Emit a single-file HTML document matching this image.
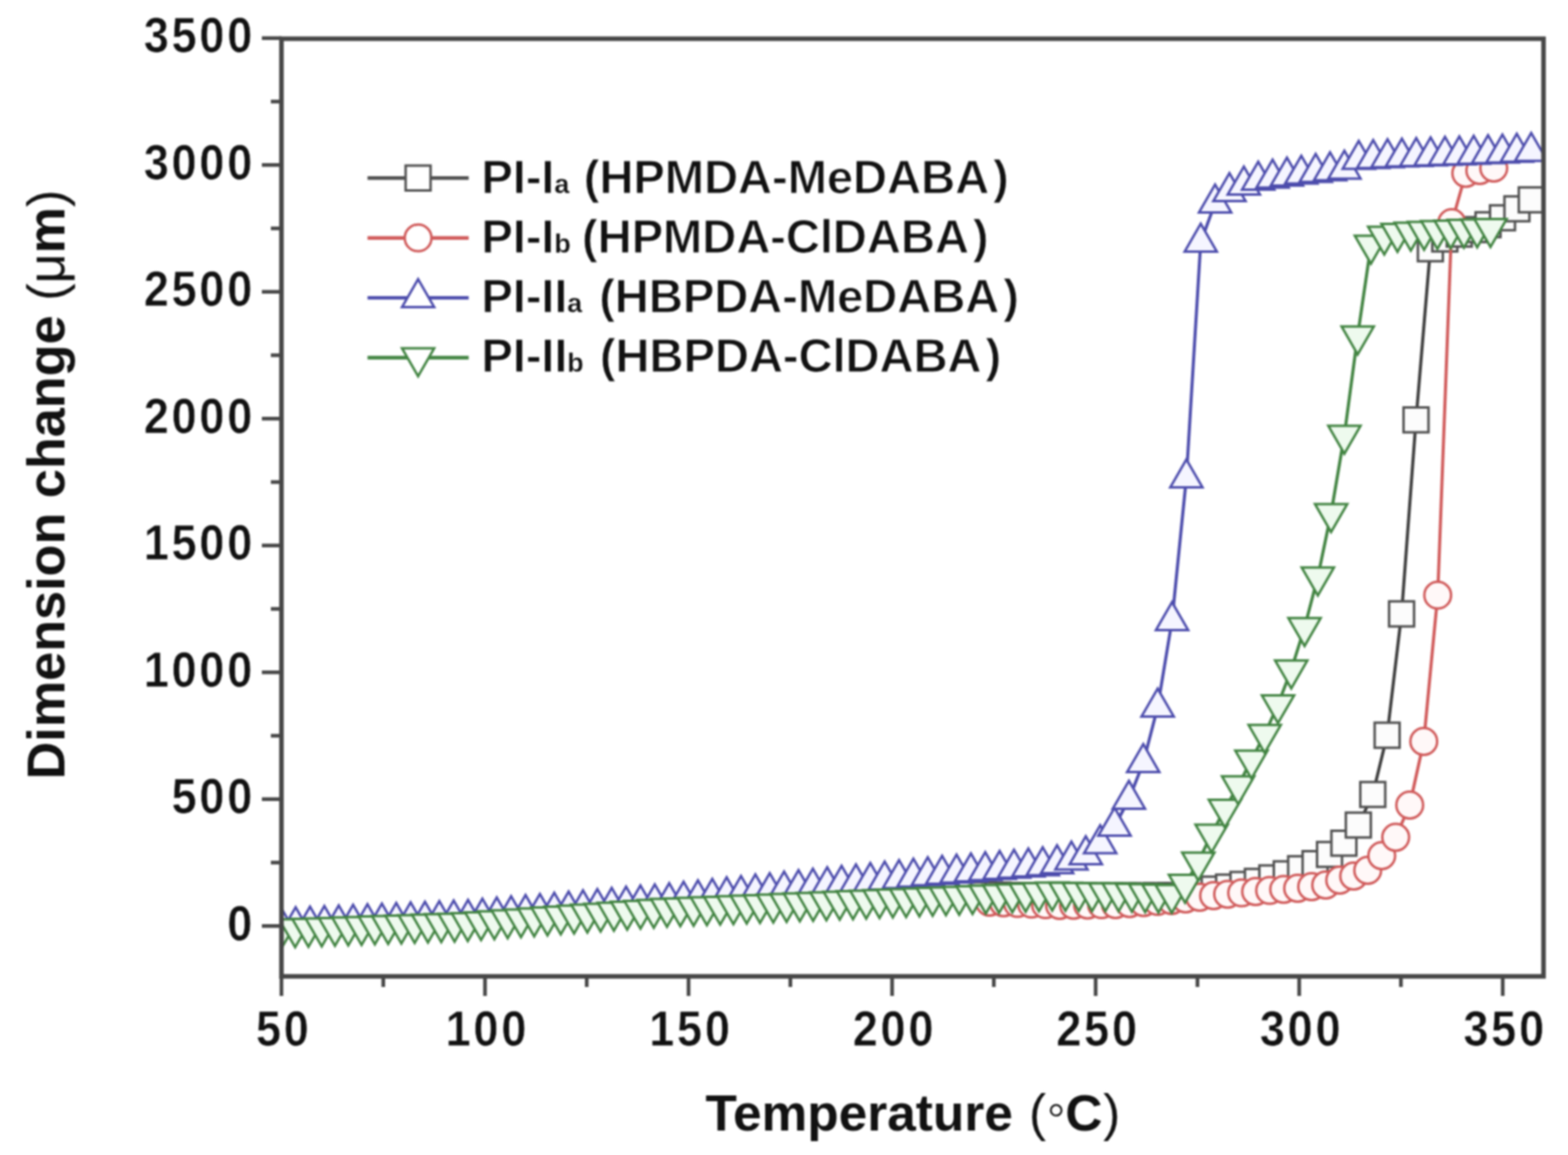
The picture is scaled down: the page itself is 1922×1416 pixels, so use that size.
<!DOCTYPE html>
<html><head><meta charset="utf-8"><title>Dimension change vs Temperature</title>
<style>html,body{margin:0;padding:0;background:#fff;}body{width:1922px;height:1416px;overflow:hidden;}svg{display:block;filter:blur(1.1px);}</style>
</head><body>
<svg width="1922" height="1416" viewBox="0 0 1922 1416"><defs><clipPath id="pc"><rect x="345.0" y="47.5" width="1547.0" height="1149.5"/></clipPath></defs>
<g clip-path="url(#pc)">
<polyline points="1205.6,1097 1223.2,1097.3 1240.9,1097.7 1258.6,1098 1276.3,1098.3 1293.9,1098.7 1311.6,1099 1329.3,1098.9 1346.9,1098.7 1364.6,1098.6 1382.3,1098.4 1400,1098.3 1417.6,1098.1 1435.3,1098 1453,1095 1470.6,1092 1488.3,1090 1506,1087.5 1523.6,1084.4 1541.3,1080.6 1559,1076.3 1576.7,1071.3 1594.3,1065 1612,1058.8 1629.7,1047.5 1647.3,1033.8 1665,1011.5 1682.7,974 1700.3,901.4 1718,752.6 1735.7,514.8 1753.3,305 1771,293 1788.7,287 1806.4,281.5 1824,275.5 1841.7,267 1859.4,256 1877,245" fill="none" stroke="#3c3c3c" stroke-width="3.8" stroke-linejoin="round"/>
<g fill="#fcfcfc" stroke="#505050" stroke-width="3.0" stroke-miterlimit="10"><path d="M1190.3 1081.7h30.6v30.6h-30.6z"/><path d="M1208 1082h30.6v30.6h-30.6z"/><path d="M1225.6 1082.4h30.6v30.6h-30.6z"/><path d="M1243.3 1082.7h30.6v30.6h-30.6z"/><path d="M1261 1083h30.6v30.6h-30.6z"/><path d="M1278.6 1083.4h30.6v30.6h-30.6z"/><path d="M1296.3 1083.7h30.6v30.6h-30.6z"/><path d="M1314 1083.6h30.6v30.6h-30.6z"/><path d="M1331.6 1083.4h30.6v30.6h-30.6z"/><path d="M1349.3 1083.3h30.6v30.6h-30.6z"/><path d="M1367 1083.1h30.6v30.6h-30.6z"/><path d="M1384.7 1083h30.6v30.6h-30.6z"/><path d="M1402.3 1082.8h30.6v30.6h-30.6z"/><path d="M1420 1082.7h30.6v30.6h-30.6z"/><path d="M1437.7 1079.7h30.6v30.6h-30.6z"/><path d="M1455.3 1076.7h30.6v30.6h-30.6z"/><path d="M1473 1074.7h30.6v30.6h-30.6z"/><path d="M1490.7 1072.2h30.6v30.6h-30.6z"/><path d="M1508.3 1069.1h30.6v30.6h-30.6z"/><path d="M1526 1065.3h30.6v30.6h-30.6z"/><path d="M1543.7 1061h30.6v30.6h-30.6z"/><path d="M1561.4 1056h30.6v30.6h-30.6z"/><path d="M1579 1049.7h30.6v30.6h-30.6z"/><path d="M1596.7 1043.5h30.6v30.6h-30.6z"/><path d="M1614.4 1032.2h30.6v30.6h-30.6z"/><path d="M1632 1018.5h30.6v30.6h-30.6z"/><path d="M1649.7 996.2h30.6v30.6h-30.6z"/><path d="M1667.4 958.7h30.6v30.6h-30.6z"/><path d="M1685 886.1h30.6v30.6h-30.6z"/><path d="M1702.7 737.3h30.6v30.6h-30.6z"/><path d="M1720.4 499.5h30.6v30.6h-30.6z"/><path d="M1738 289.7h30.6v30.6h-30.6z"/><path d="M1755.7 277.7h30.6v30.6h-30.6z"/><path d="M1773.4 271.7h30.6v30.6h-30.6z"/><path d="M1791.1 266.2h30.6v30.6h-30.6z"/><path d="M1808.7 260.2h30.6v30.6h-30.6z"/><path d="M1826.4 251.7h30.6v30.6h-30.6z"/><path d="M1844.1 240.7h30.6v30.6h-30.6z"/><path d="M1861.7 229.7h30.6v30.6h-30.6z"/></g>
<polyline points="1212.9,1106 1230.1,1106.8 1247.2,1107.6 1264.4,1108.4 1281.6,1109.2 1298.8,1110 1315.9,1109.8 1333.1,1109.5 1350.3,1109.2 1367.4,1109 1384.6,1107.8 1401.8,1106.5 1419,1105.2 1436.1,1104 1453.3,1102 1470.5,1100 1487.6,1098 1504.8,1096.3 1522,1094.7 1539.1,1093 1556.3,1091.7 1573.5,1090.3 1590.7,1089 1607.8,1087 1625,1085 1642.2,1079 1659.3,1074 1676.5,1067 1693.7,1049 1710.8,1026.5 1728,987 1745.2,909 1762.3,729.7 1779.5,273 1796.7,212.5 1813.9,209 1831,206" fill="none" stroke="#d05a5a" stroke-width="3.8" stroke-linejoin="round"/>
<g fill="#fff8f8" stroke="#d05a5a" stroke-width="3.0" stroke-miterlimit="10"><path d="M1196.5 1106a16.4 16.4 0 1 0 32.8 0a16.4 16.4 0 1 0 -32.8 0z"/><path d="M1213.7 1106.8a16.4 16.4 0 1 0 32.8 0a16.4 16.4 0 1 0 -32.8 0z"/><path d="M1230.8 1107.6a16.4 16.4 0 1 0 32.8 0a16.4 16.4 0 1 0 -32.8 0z"/><path d="M1248 1108.4a16.4 16.4 0 1 0 32.8 0a16.4 16.4 0 1 0 -32.8 0z"/><path d="M1265.2 1109.2a16.4 16.4 0 1 0 32.8 0a16.4 16.4 0 1 0 -32.8 0z"/><path d="M1282.4 1110a16.4 16.4 0 1 0 32.8 0a16.4 16.4 0 1 0 -32.8 0z"/><path d="M1299.5 1109.8a16.4 16.4 0 1 0 32.8 0a16.4 16.4 0 1 0 -32.8 0z"/><path d="M1316.7 1109.5a16.4 16.4 0 1 0 32.8 0a16.4 16.4 0 1 0 -32.8 0z"/><path d="M1333.9 1109.2a16.4 16.4 0 1 0 32.8 0a16.4 16.4 0 1 0 -32.8 0z"/><path d="M1351 1109a16.4 16.4 0 1 0 32.8 0a16.4 16.4 0 1 0 -32.8 0z"/><path d="M1368.2 1107.8a16.4 16.4 0 1 0 32.8 0a16.4 16.4 0 1 0 -32.8 0z"/><path d="M1385.4 1106.5a16.4 16.4 0 1 0 32.8 0a16.4 16.4 0 1 0 -32.8 0z"/><path d="M1402.5 1105.2a16.4 16.4 0 1 0 32.8 0a16.4 16.4 0 1 0 -32.8 0z"/><path d="M1419.7 1104a16.4 16.4 0 1 0 32.8 0a16.4 16.4 0 1 0 -32.8 0z"/><path d="M1436.9 1102a16.4 16.4 0 1 0 32.8 0a16.4 16.4 0 1 0 -32.8 0z"/><path d="M1454.1 1100a16.4 16.4 0 1 0 32.8 0a16.4 16.4 0 1 0 -32.8 0z"/><path d="M1471.2 1098a16.4 16.4 0 1 0 32.8 0a16.4 16.4 0 1 0 -32.8 0z"/><path d="M1488.4 1096.3a16.4 16.4 0 1 0 32.8 0a16.4 16.4 0 1 0 -32.8 0z"/><path d="M1505.6 1094.7a16.4 16.4 0 1 0 32.8 0a16.4 16.4 0 1 0 -32.8 0z"/><path d="M1522.7 1093a16.4 16.4 0 1 0 32.8 0a16.4 16.4 0 1 0 -32.8 0z"/><path d="M1539.9 1091.7a16.4 16.4 0 1 0 32.8 0a16.4 16.4 0 1 0 -32.8 0z"/><path d="M1557.1 1090.3a16.4 16.4 0 1 0 32.8 0a16.4 16.4 0 1 0 -32.8 0z"/><path d="M1574.2 1089a16.4 16.4 0 1 0 32.8 0a16.4 16.4 0 1 0 -32.8 0z"/><path d="M1591.4 1087a16.4 16.4 0 1 0 32.8 0a16.4 16.4 0 1 0 -32.8 0z"/><path d="M1608.6 1085a16.4 16.4 0 1 0 32.8 0a16.4 16.4 0 1 0 -32.8 0z"/><path d="M1625.8 1079a16.4 16.4 0 1 0 32.8 0a16.4 16.4 0 1 0 -32.8 0z"/><path d="M1642.9 1074a16.4 16.4 0 1 0 32.8 0a16.4 16.4 0 1 0 -32.8 0z"/><path d="M1660.1 1067a16.4 16.4 0 1 0 32.8 0a16.4 16.4 0 1 0 -32.8 0z"/><path d="M1677.3 1049a16.4 16.4 0 1 0 32.8 0a16.4 16.4 0 1 0 -32.8 0z"/><path d="M1694.4 1026.5a16.4 16.4 0 1 0 32.8 0a16.4 16.4 0 1 0 -32.8 0z"/><path d="M1711.6 987a16.4 16.4 0 1 0 32.8 0a16.4 16.4 0 1 0 -32.8 0z"/><path d="M1728.8 909a16.4 16.4 0 1 0 32.8 0a16.4 16.4 0 1 0 -32.8 0z"/><path d="M1745.9 729.7a16.4 16.4 0 1 0 32.8 0a16.4 16.4 0 1 0 -32.8 0z"/><path d="M1763.1 273a16.4 16.4 0 1 0 32.8 0a16.4 16.4 0 1 0 -32.8 0z"/><path d="M1780.3 212.5a16.4 16.4 0 1 0 32.8 0a16.4 16.4 0 1 0 -32.8 0z"/><path d="M1797.5 209a16.4 16.4 0 1 0 32.8 0a16.4 16.4 0 1 0 -32.8 0z"/><path d="M1814.6 206a16.4 16.4 0 1 0 32.8 0a16.4 16.4 0 1 0 -32.8 0z"/></g>
<polyline points="344.8,1136 362.4,1135 380,1134.2 397.6,1133.5 415.2,1132.8 432.8,1132 450.4,1131.2 468.1,1130.5 485.7,1129.8 503.3,1129 520.9,1128.2 538.5,1127.5 556.1,1126.8 573.7,1126 591.3,1124.5 608.9,1123.1 626.5,1121.6 644.2,1120.1 661.8,1118.7 679.4,1117.2 697,1115.8 714.6,1114.3 732.2,1112.8 749.8,1111.4 767.4,1109.9 785,1108.4 802.6,1107 820.3,1105.5 837.9,1103.7 855.5,1102 873.1,1100.2 890.7,1098.4 908.3,1096.7 925.9,1094.9 943.5,1093.2 961.1,1091.4 978.8,1089.6 996.4,1087.9 1014,1086.1 1031.6,1084.3 1049.2,1082.6 1066.8,1080.8 1084.4,1079.1 1102,1077.3 1119.6,1075.5 1137.2,1073.8 1154.8,1072 1172.5,1070.5 1190.1,1069 1207.7,1067.5 1225.3,1066 1242.9,1064.5 1260.5,1063 1278.1,1061.5 1295.7,1059 1313.3,1054.5 1330.9,1048 1348.6,1034.5 1366.2,1013 1383.8,980 1401.4,935 1419,867 1436.6,761 1454.2,586 1471.8,297 1489.4,249 1507,235 1524.7,227 1542.3,221 1559.9,218.5 1577.5,216 1595.1,213.7 1612.7,211.5 1630.3,209.5 1647.9,207.5 1665.5,195.5 1683.2,194.5 1700.8,193.5 1718.4,192.7 1736,192 1753.6,191.3 1771.2,190.6 1788.8,190 1806.4,189.3 1824,188.6 1841.6,187.8 1859.2,186.8 1876.9,185.8" fill="none" stroke="#4c4cac" stroke-width="3.8" stroke-linejoin="round"/>
<g fill="#f5f5ff" stroke="#4c4cac" stroke-width="3.0" stroke-miterlimit="10"><path d="M344.8 1113.2L364.5 1147.4L325 1147.4z"/><path d="M362.4 1112.2L382.1 1146.4L342.6 1146.4z"/><path d="M380 1111.4L399.8 1145.7L360.3 1145.7z"/><path d="M397.6 1110.7L417.4 1144.9L377.9 1144.9z"/><path d="M415.2 1109.9L435 1144.2L395.5 1144.2z"/><path d="M432.8 1109.2L452.6 1143.4L413.1 1143.4z"/><path d="M450.4 1108.4L470.2 1142.7L430.7 1142.7z"/><path d="M468.1 1107.7L487.8 1141.9L448.3 1141.9z"/><path d="M485.7 1106.9L505.4 1141.2L465.9 1141.2z"/><path d="M503.3 1106.2L523 1140.4L483.5 1140.4z"/><path d="M520.9 1105.4L540.6 1139.7L501.1 1139.7z"/><path d="M538.5 1104.7L558.2 1138.9L518.8 1138.9z"/><path d="M556.1 1103.9L575.9 1138.2L536.4 1138.2z"/><path d="M573.7 1103.2L593.5 1137.4L554 1137.4z"/><path d="M591.3 1101.7L611.1 1135.9L571.6 1135.9z"/><path d="M608.9 1100.3L628.7 1134.5L589.2 1134.5z"/><path d="M626.5 1098.8L646.3 1133L606.8 1133z"/><path d="M644.2 1097.3L663.9 1131.5L624.4 1131.5z"/><path d="M661.8 1095.9L681.5 1130.1L642 1130.1z"/><path d="M679.4 1094.4L699.1 1128.6L659.6 1128.6z"/><path d="M697 1092.9L716.7 1127.2L677.2 1127.2z"/><path d="M714.6 1091.5L734.3 1125.7L694.8 1125.7z"/><path d="M732.2 1090L752 1124.2L712.5 1124.2z"/><path d="M749.8 1088.6L769.6 1122.8L730.1 1122.8z"/><path d="M767.4 1087.1L787.2 1121.3L747.7 1121.3z"/><path d="M785 1085.6L804.8 1119.8L765.3 1119.8z"/><path d="M802.6 1084.2L822.4 1118.4L782.9 1118.4z"/><path d="M820.3 1082.7L840 1116.9L800.5 1116.9z"/><path d="M837.9 1080.9L857.6 1115.1L818.1 1115.1z"/><path d="M855.5 1079.2L875.2 1113.4L835.7 1113.4z"/><path d="M873.1 1077.4L892.8 1111.6L853.3 1111.6z"/><path d="M890.7 1075.6L910.4 1109.9L870.9 1109.9z"/><path d="M908.3 1073.9L928.1 1108.1L888.6 1108.1z"/><path d="M925.9 1072.1L945.7 1106.3L906.2 1106.3z"/><path d="M943.5 1070.4L963.3 1104.6L923.8 1104.6z"/><path d="M961.1 1068.6L980.9 1102.8L941.4 1102.8z"/><path d="M978.8 1066.8L998.5 1101L959 1101z"/><path d="M996.4 1065.1L1016.1 1099.3L976.6 1099.3z"/><path d="M1014 1063.3L1033.7 1097.5L994.2 1097.5z"/><path d="M1031.6 1061.5L1051.3 1095.7L1011.8 1095.7z"/><path d="M1049.2 1059.8L1068.9 1094L1029.4 1094z"/><path d="M1066.8 1058L1086.5 1092.2L1047 1092.2z"/><path d="M1084.4 1056.2L1104.2 1090.5L1064.7 1090.5z"/><path d="M1102 1054.5L1121.8 1088.7L1082.3 1088.7z"/><path d="M1119.6 1052.7L1139.4 1086.9L1099.9 1086.9z"/><path d="M1137.2 1051L1157 1085.2L1117.5 1085.2z"/><path d="M1154.8 1049.2L1174.6 1083.4L1135.1 1083.4z"/><path d="M1172.5 1047.7L1192.2 1081.9L1152.7 1081.9z"/><path d="M1190.1 1046.2L1209.8 1080.4L1170.3 1080.4z"/><path d="M1207.7 1044.7L1227.4 1078.9L1187.9 1078.9z"/><path d="M1225.3 1043.2L1245 1077.4L1205.5 1077.4z"/><path d="M1242.9 1041.7L1262.7 1075.9L1223.2 1075.9z"/><path d="M1260.5 1040.2L1280.3 1074.4L1240.8 1074.4z"/><path d="M1278.1 1038.7L1297.9 1072.9L1258.4 1072.9z"/><path d="M1295.7 1036.2L1315.5 1070.4L1276 1070.4z"/><path d="M1313.3 1031.7L1333.1 1065.9L1293.6 1065.9z"/><path d="M1330.9 1025.2L1350.7 1059.4L1311.2 1059.4z"/><path d="M1348.6 1011.7L1368.3 1045.9L1328.8 1045.9z"/><path d="M1366.2 990.2L1385.9 1024.4L1346.4 1024.4z"/><path d="M1383.8 957.2L1403.5 991.4L1364 991.4z"/><path d="M1401.4 912.2L1421.1 946.4L1381.6 946.4z"/><path d="M1419 844.2L1438.8 878.4L1399.2 878.4z"/><path d="M1436.6 738.2L1456.4 772.4L1416.9 772.4z"/><path d="M1454.2 563.2L1474 597.4L1434.5 597.4z"/><path d="M1471.8 274.2L1491.6 308.4L1452.1 308.4z"/><path d="M1489.4 226.2L1509.2 260.4L1469.7 260.4z"/><path d="M1507 212.2L1526.8 246.4L1487.3 246.4z"/><path d="M1524.7 204.2L1544.4 238.4L1504.9 238.4z"/><path d="M1542.3 198.2L1562 232.4L1522.5 232.4z"/><path d="M1559.9 195.7L1579.6 229.9L1540.1 229.9z"/><path d="M1577.5 193.2L1597.2 227.4L1557.7 227.4z"/><path d="M1595.1 190.9L1614.8 225.1L1575.3 225.1z"/><path d="M1612.7 188.7L1632.5 222.9L1593 222.9z"/><path d="M1630.3 186.7L1650.1 220.9L1610.6 220.9z"/><path d="M1647.9 184.7L1667.7 218.9L1628.2 218.9z"/><path d="M1665.5 172.7L1685.3 206.9L1645.8 206.9z"/><path d="M1683.2 171.7L1702.9 205.9L1663.4 205.9z"/><path d="M1700.8 170.7L1720.5 204.9L1681 204.9z"/><path d="M1718.4 169.9L1738.1 204.1L1698.6 204.1z"/><path d="M1736 169.2L1755.7 203.4L1716.2 203.4z"/><path d="M1753.6 168.5L1773.3 202.7L1733.8 202.7z"/><path d="M1771.2 167.8L1790.9 202L1751.4 202z"/><path d="M1788.8 167.2L1808.6 201.4L1769.1 201.4z"/><path d="M1806.4 166.5L1826.2 200.7L1786.7 200.7z"/><path d="M1824 165.8L1843.8 200L1804.3 200z"/><path d="M1841.6 165L1861.4 199.2L1821.9 199.2z"/><path d="M1859.2 164L1879 198.2L1839.5 198.2z"/><path d="M1876.9 163L1896.6 197.2L1857.1 197.2z"/></g>
<polyline points="345.5,1139 361.8,1138.5 378.1,1137.9 394.4,1137.3 410.6,1136.8 426.9,1136.2 443.2,1135.6 459.5,1135 475.8,1134.5 492,1133.9 508.3,1133.3 524.6,1132.7 540.9,1132.2 557.2,1131.6 573.4,1131 589.7,1129.8 606,1128.7 622.3,1127.5 638.6,1126.3 654.8,1125.2 671.1,1124 687.4,1122.8 703.7,1121.7 720,1120.5 736.2,1119.3 752.5,1118.2 768.8,1117 785.1,1115.8 801.4,1114.7 817.6,1113.5 833.9,1112.8 850.2,1112.2 866.5,1111.5 882.8,1110.8 899,1110.1 915.3,1109.5 931.6,1108.8 947.9,1108.1 964.2,1107.4 980.4,1106.8 996.7,1106.1 1013,1105.4 1029.3,1104.7 1045.6,1104 1061.8,1103.4 1078.1,1102.7 1094.4,1102 1110.7,1101.3 1127,1100.7 1143.2,1100 1159.5,1099.3 1175.8,1098.6 1192.1,1097.8 1208.4,1097.1 1224.6,1096.4 1240.9,1095.7 1257.2,1094.9 1273.5,1094.2 1289.8,1093.5 1306,1093.7 1322.3,1093.9 1338.6,1094.1 1354.9,1094.3 1371.2,1094.5 1387.4,1095 1403.7,1095.5 1420,1096 1436.3,1096.5 1452.6,1084 1468.8,1056.6 1485.1,1022.3 1501.4,991.8 1517.7,963.2 1534,931.7 1550.2,900.2 1566.5,863.8 1582.8,821.1 1599.1,769.2 1615.4,707.1 1631.6,629.4 1647.9,533.4 1664.2,411.6 1680.5,300.4 1696.8,289.3 1713,286 1729.3,284.5 1745.6,283.5 1761.9,282.5 1778.2,281.8 1794.4,281 1810.7,280.5 1827,280" fill="none" stroke="#428442" stroke-width="3.8" stroke-linejoin="round"/>
<g fill="#eefaee" stroke="#428442" stroke-width="3.0" stroke-miterlimit="10"><path d="M345.5 1161.8L365.3 1127.6L325.8 1127.6z"/><path d="M361.8 1161.3L381.6 1127.1L342.1 1127.1z"/><path d="M378.1 1160.7L397.8 1126.5L358.3 1126.5z"/><path d="M394.4 1160.2L414.1 1125.9L374.6 1125.9z"/><path d="M410.6 1159.6L430.4 1125.4L390.9 1125.4z"/><path d="M426.9 1159L446.7 1124.8L407.2 1124.8z"/><path d="M443.2 1158.4L463 1124.2L423.5 1124.2z"/><path d="M459.5 1157.8L479.2 1123.6L439.7 1123.6z"/><path d="M475.8 1157.3L495.5 1123.1L456 1123.1z"/><path d="M492 1156.7L511.8 1122.5L472.3 1122.5z"/><path d="M508.3 1156.1L528.1 1121.9L488.6 1121.9z"/><path d="M524.6 1155.5L544.4 1121.3L504.9 1121.3z"/><path d="M540.9 1155L560.6 1120.8L521.1 1120.8z"/><path d="M557.2 1154.4L576.9 1120.2L537.4 1120.2z"/><path d="M573.4 1153.8L593.2 1119.6L553.7 1119.6z"/><path d="M589.7 1152.6L609.5 1118.4L570 1118.4z"/><path d="M606 1151.5L625.8 1117.3L586.2 1117.3z"/><path d="M622.3 1150.3L642 1116.1L602.5 1116.1z"/><path d="M638.6 1149.1L658.3 1114.9L618.8 1114.9z"/><path d="M654.8 1148L674.6 1113.8L635.1 1113.8z"/><path d="M671.1 1146.8L690.9 1112.6L651.4 1112.6z"/><path d="M687.4 1145.6L707.2 1111.4L667.7 1111.4z"/><path d="M703.7 1144.5L723.4 1110.3L683.9 1110.3z"/><path d="M720 1143.3L739.7 1109.1L700.2 1109.1z"/><path d="M736.2 1142.1L756 1107.9L716.5 1107.9z"/><path d="M752.5 1141L772.3 1106.8L732.8 1106.8z"/><path d="M768.8 1139.8L788.5 1105.6L749 1105.6z"/><path d="M785.1 1138.6L804.8 1104.4L765.3 1104.4z"/><path d="M801.4 1137.5L821.1 1103.3L781.6 1103.3z"/><path d="M817.6 1136.3L837.4 1102.1L797.9 1102.1z"/><path d="M833.9 1135.6L853.7 1101.4L814.2 1101.4z"/><path d="M850.2 1135L870 1100.7L830.5 1100.7z"/><path d="M866.5 1134.3L886.2 1100.1L846.7 1100.1z"/><path d="M882.8 1133.6L902.5 1099.4L863 1099.4z"/><path d="M899 1132.9L918.8 1098.7L879.3 1098.7z"/><path d="M915.3 1132.3L935.1 1098L895.6 1098z"/><path d="M931.6 1131.6L951.4 1097.4L911.9 1097.4z"/><path d="M947.9 1130.9L967.6 1096.7L928.1 1096.7z"/><path d="M964.2 1130.2L983.9 1096L944.4 1096z"/><path d="M980.4 1129.6L1000.2 1095.3L960.7 1095.3z"/><path d="M996.7 1128.9L1016.5 1094.7L977 1094.7z"/><path d="M1013 1128.2L1032.8 1094L993.2 1094z"/><path d="M1029.3 1127.5L1049 1093.3L1009.5 1093.3z"/><path d="M1045.6 1126.9L1065.3 1092.6L1025.8 1092.6z"/><path d="M1061.8 1126.2L1081.6 1092L1042.1 1092z"/><path d="M1078.1 1125.5L1097.9 1091.3L1058.4 1091.3z"/><path d="M1094.4 1124.8L1114.2 1090.6L1074.7 1090.6z"/><path d="M1110.7 1124.2L1130.4 1089.9L1090.9 1089.9z"/><path d="M1127 1123.5L1146.7 1089.3L1107.2 1089.3z"/><path d="M1143.2 1122.8L1163 1088.6L1123.5 1088.6z"/><path d="M1159.5 1122.1L1179.3 1087.9L1139.8 1087.9z"/><path d="M1175.8 1121.4L1195.5 1087.2L1156 1087.2z"/><path d="M1192.1 1120.6L1211.8 1086.4L1172.3 1086.4z"/><path d="M1208.4 1119.9L1228.1 1085.7L1188.6 1085.7z"/><path d="M1224.6 1119.2L1244.4 1085L1204.9 1085z"/><path d="M1240.9 1118.5L1260.7 1084.3L1221.2 1084.3z"/><path d="M1257.2 1117.7L1277 1083.5L1237.5 1083.5z"/><path d="M1273.5 1117L1293.2 1082.8L1253.7 1082.8z"/><path d="M1289.8 1116.3L1309.5 1082.1L1270 1082.1z"/><path d="M1306 1116.5L1325.8 1082.3L1286.3 1082.3z"/><path d="M1322.3 1116.7L1342.1 1082.5L1302.6 1082.5z"/><path d="M1338.6 1116.9L1358.4 1082.7L1318.9 1082.7z"/><path d="M1354.9 1117.1L1374.6 1082.9L1335.1 1082.9z"/><path d="M1371.2 1117.3L1390.9 1083.1L1351.4 1083.1z"/><path d="M1387.4 1117.8L1407.2 1083.6L1367.7 1083.6z"/><path d="M1403.7 1118.3L1423.5 1084.1L1384 1084.1z"/><path d="M1420 1118.8L1439.8 1084.6L1400.2 1084.6z"/><path d="M1436.3 1119.3L1456 1085.1L1416.5 1085.1z"/><path d="M1452.6 1106.8L1472.3 1072.6L1432.8 1072.6z"/><path d="M1468.8 1079.4L1488.6 1045.2L1449.1 1045.2z"/><path d="M1485.1 1045.1L1504.9 1010.9L1465.4 1010.9z"/><path d="M1501.4 1014.6L1521.2 980.4L1481.7 980.4z"/><path d="M1517.7 986L1537.4 951.8L1497.9 951.8z"/><path d="M1534 954.5L1553.7 920.3L1514.2 920.3z"/><path d="M1550.2 923L1570 888.8L1530.5 888.8z"/><path d="M1566.5 886.6L1586.3 852.4L1546.8 852.4z"/><path d="M1582.8 843.9L1602.5 809.7L1563 809.7z"/><path d="M1599.1 792L1618.8 757.8L1579.3 757.8z"/><path d="M1615.4 729.9L1635.1 695.7L1595.6 695.7z"/><path d="M1631.6 652.2L1651.4 618L1611.9 618z"/><path d="M1647.9 556.2L1667.7 522L1628.2 522z"/><path d="M1664.2 434.4L1684 400.2L1644.5 400.2z"/><path d="M1680.5 323.2L1700.2 289L1660.7 289z"/><path d="M1696.8 312.1L1716.5 277.9L1677 277.9z"/><path d="M1713 308.8L1732.8 274.6L1693.3 274.6z"/><path d="M1729.3 307.3L1749.1 273.1L1709.6 273.1z"/><path d="M1745.6 306.3L1765.4 272.1L1725.9 272.1z"/><path d="M1761.9 305.3L1781.6 271.1L1742.1 271.1z"/><path d="M1778.2 304.6L1797.9 270.4L1758.4 270.4z"/><path d="M1794.4 303.8L1814.2 269.6L1774.7 269.6z"/><path d="M1810.7 303.3L1830.5 269.1L1791 269.1z"/><path d="M1827 302.8L1846.8 268.6L1807.2 268.6z"/></g>
</g>
<path d="M321 1135.3H345M321 979.8H345M321 824.3H345M321 668.8H345M321 513.3H345M321 357.8H345M321 202.3H345M321 46.8H345M332 1057.5H345M332 902H345M332 746.5H345M332 591H345M332 435.5H345M332 280H345M332 124.5H345M345 1197V1221M594.5 1197V1221M844 1197V1221M1093.5 1197V1221M1343 1197V1221M1592.5 1197V1221M1842 1197V1221M469.8 1197V1210M719.2 1197V1210M968.8 1197V1210M1218.2 1197V1210M1467.8 1197V1210M1717.2 1197V1210" stroke="#464646" stroke-width="4.5" fill="none"/>
<rect x="345.0" y="47.5" width="1547.0" height="1149.5" fill="none" stroke="#464646" stroke-width="5.6"/>
<g font-family="'Liberation Sans', Arial, sans-serif" font-weight="bold" font-size="61.5" fill="#111" stroke="#fff" stroke-width="0.7"><text transform="translate(312.6 1152.7) scale(0.9 1)" text-anchor="end" letter-spacing="3.7">0</text><text transform="translate(312.6 997.2) scale(0.9 1)" text-anchor="end" letter-spacing="3.7">500</text><text transform="translate(312.6 841.7) scale(0.9 1)" text-anchor="end" letter-spacing="3.7">1000</text><text transform="translate(312.6 686.2) scale(0.9 1)" text-anchor="end" letter-spacing="3.7">1500</text><text transform="translate(312.6 530.7) scale(0.9 1)" text-anchor="end" letter-spacing="3.7">2000</text><text transform="translate(312.6 375.2) scale(0.9 1)" text-anchor="end" letter-spacing="3.7">2500</text><text transform="translate(312.6 219.7) scale(0.9 1)" text-anchor="end" letter-spacing="3.7">3000</text><text transform="translate(312.6 64.2) scale(0.9 1)" text-anchor="end" letter-spacing="3.7">3500</text><text transform="translate(347.8 1282) scale(0.9 1)" text-anchor="middle" letter-spacing="3.7">50</text><text transform="translate(597.4 1282) scale(0.9 1)" text-anchor="middle" letter-spacing="3.7">100</text><text transform="translate(846.9 1282) scale(0.9 1)" text-anchor="middle" letter-spacing="3.7">150</text><text transform="translate(1096.4 1282) scale(0.9 1)" text-anchor="middle" letter-spacing="3.7">200</text><text transform="translate(1345.9 1282) scale(0.9 1)" text-anchor="middle" letter-spacing="3.7">250</text><text transform="translate(1595.4 1282) scale(0.9 1)" text-anchor="middle" letter-spacing="3.7">300</text><text transform="translate(1844.9 1282) scale(0.9 1)" text-anchor="middle" letter-spacing="3.7">350</text></g>
<text x="1119" y="1386" text-anchor="middle" font-family="'Liberation Sans', Arial, sans-serif" font-weight="bold" font-size="63" fill="#111">Temperature <tspan font-weight="normal" dx="2">(</tspan><tspan font-weight="normal" font-size="64" dy="-5.3" dx="1">&#9702;</tspan><tspan dy="5.3">C</tspan><tspan font-weight="normal" dx="1">)</tspan></text>
<text transform="translate(78.6 594) rotate(-90)" text-anchor="middle" font-family="'Liberation Sans', Arial, sans-serif" font-weight="bold" font-size="64" fill="#111">Dimension change <tspan font-weight="normal">(&#956;</tspan>m<tspan font-weight="normal">)</tspan></text>
<path d="M450.5 218.3H574.5" stroke="#505050" stroke-width="4.3999999999999995"/>
<path d="M497.2 203h30.6v30.6h-30.6z" fill="#fff" stroke="#505050" stroke-width="3.0"/>
<text x="590" y="236.6" font-family="'Liberation Sans', Arial, sans-serif" font-weight="bold" font-size="58" letter-spacing="-0.2" fill="#111" stroke="#fff" stroke-width="1.1">PI-I<tspan font-size="33" stroke-width="0.3">a</tspan> <tspan dx="2">(</tspan>HPMDA-MeDABA<tspan dx="5">)</tspan></text>
<path d="M450.5 291.7H574.5" stroke="#d05a5a" stroke-width="4.3999999999999995"/>
<path d="M496.1 291.7a16.4 16.4 0 1 0 32.8 0a16.4 16.4 0 1 0 -32.8 0z" fill="#fff" stroke="#d05a5a" stroke-width="3.0"/>
<text x="590" y="309.8" font-family="'Liberation Sans', Arial, sans-serif" font-weight="bold" font-size="58" letter-spacing="-0.2" fill="#111" stroke="#fff" stroke-width="1.1">PI-I<tspan font-size="33" stroke-width="0.3">b</tspan> <tspan dx="-2">(</tspan>HPMDA-ClDABA<tspan dx="5">)</tspan></text>
<path d="M450.5 365.1H574.5" stroke="#4c4cac" stroke-width="4.3999999999999995"/>
<path d="M512.5 342.3L532.2 376.5L492.8 376.5z" fill="#fff" stroke="#4c4cac" stroke-width="3.0"/>
<text x="590" y="383" font-family="'Liberation Sans', Arial, sans-serif" font-weight="bold" font-size="58" letter-spacing="-0.2" fill="#111" stroke="#fff" stroke-width="1.1">PI-II<tspan font-size="33" stroke-width="0.3">a</tspan> <tspan dx="5">(</tspan>HBPDA-MeDABA<tspan dx="5">)</tspan></text>
<path d="M450.5 438.5H574.5" stroke="#428442" stroke-width="4.3999999999999995"/>
<path d="M512.5 461.3L532.2 427.1L492.8 427.1z" fill="#fff" stroke="#428442" stroke-width="3.0"/>
<text x="590" y="456.2" font-family="'Liberation Sans', Arial, sans-serif" font-weight="bold" font-size="58" letter-spacing="-0.2" fill="#111" stroke="#fff" stroke-width="1.1">PI-II<tspan font-size="33" stroke-width="0.3">b</tspan> <tspan dx="4">(</tspan>HBPDA-ClDABA<tspan dx="5">)</tspan></text></svg>
</body></html>
